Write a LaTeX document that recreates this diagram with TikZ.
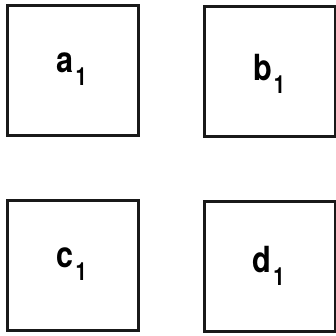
\documentclass[tikz,border=0pt]{standalone}
\usepackage{fontspec}
\setmainfont{TeX Gyre Heros}
\tikzset{
  box/.style={draw=black!90, line width=3.2pt, minimum width=131pt, minimum height=130pt, inner sep=0pt, anchor=north west},
  lbl/.style={inner sep=0pt, font=\bfseries\fontsize{36}{36}\selectfont}
}
\newcommand{\lab}[1]{\scalebox{0.85}[1]{#1}\hspace{2pt}\raisebox{-13pt}{\scalebox{0.8}[1]{\fontsize{25}{25}\selectfont 1}}}
\begin{document}
\begin{tikzpicture}[x=1pt,y=-1pt]
\useasboundingbox (0,0) rectangle (336,335);
\node[box] (A) at (5.5,4) {};
\node[box] (B) at (203,4.5) {};
\node[box] (C) at (5.5,199) {};
\node[box] (D) at (202.5,199.5) {};
\node[lbl] (la) at ([xshift=-1pt,yshift=1pt]A.center) {\lab{a}};
\node[lbl] (lb) at ([xshift=-1pt,yshift=-3pt]B.center) {\lab{b}};
\node[lbl] (lc) at ([xshift=-1pt,yshift=1pt]C.center) {\lab{c}};
\node[lbl] (ld) at ([xshift=-1pt,yshift=0pt]D.center) {\lab{d}};
\end{tikzpicture}
\end{document}
